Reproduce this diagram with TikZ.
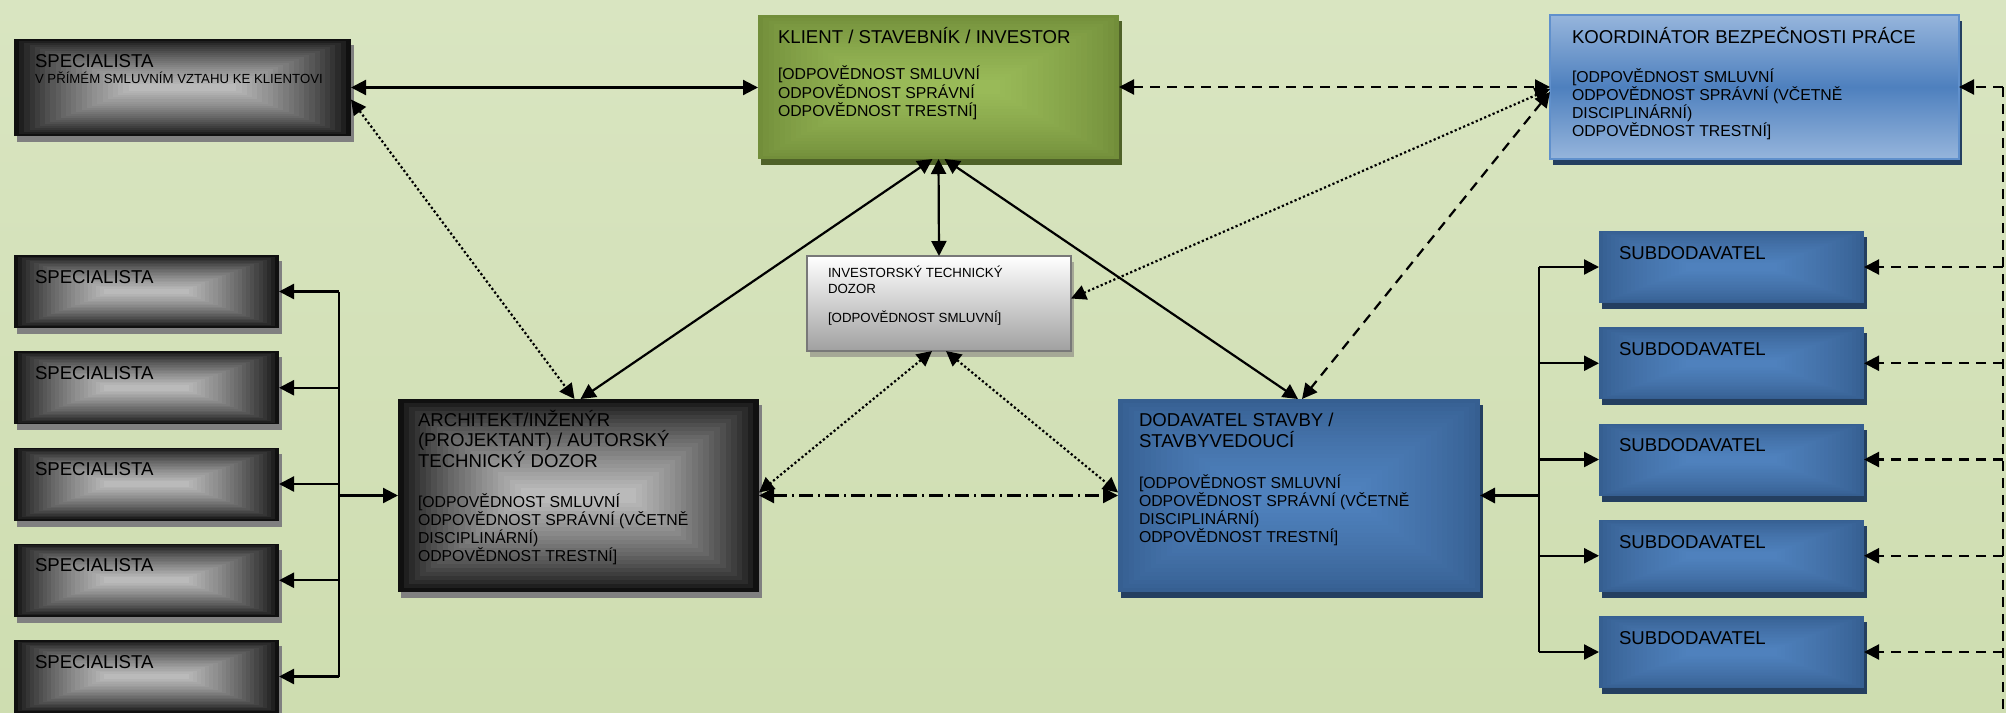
\documentclass[tikz,border=0pt]{standalone}
\usepackage{fontspec}
\setmainfont{Liberation Sans}
\usetikzlibrary{arrows.meta,calc}

\definecolor{bgtop}{RGB}{217,229,193}
\definecolor{bgbot}{RGB}{206,221,176}
\definecolor{gOut}{RGB}{16,16,16}
\definecolor{gIn}{RGB}{186,186,186}
\definecolor{gShd}{RGB}{128,128,128}
\definecolor{kOut}{RGB}{114,142,58}
\definecolor{kIn}{RGB}{153,186,88}
\definecolor{kShd}{RGB}{79,98,40}
\definecolor{bOut}{RGB}{54,95,145}
\definecolor{bIn}{RGB}{79,129,189}
\definecolor{bShd}{RGB}{36,63,96}
\definecolor{koTop}{RGB}{150,181,220}
\definecolor{koMid}{RGB}{78,128,190}
\definecolor{koBorder}{RGB}{96,144,204}
\definecolor{iBot}{RGB}{160,160,160}
\definecolor{iBorder}{RGB}{120,120,120}
\definecolor{iShd}{RGB}{165,168,150}

\newcommand\rectgrad[4]{%
  \coordinate (pa) at (path picture bounding box.south west);
  \coordinate (pb) at (path picture bounding box.north east);
  \foreach \k in {0,...,22}{
    \pgfmathsetmacro\fx{#3*\k/22}
    \pgfmathsetmacro\fy{#4*\k/22}
    \pgfmathtruncatemacro\pc{100*(\k/22)^0.75}
    \coordinate (qa) at ($(pa)!\fx!(pb)$);
    \coordinate (qb) at ($(pa)!\fy!(pb)$);
    \coordinate (qc) at ($(pb)!\fx!(pa)$);
    \coordinate (qd) at ($(pb)!\fy!(pa)$);
    \fill[#2!\pc!#1] (qa |- qb) rectangle (qc |- qd);
  }}

\newcommand\ttlf[1][10.25pt]{\fontsize{9.3pt}{#1}\selectfont}
\newcommand\bodyf[1][9.05pt]{\fontsize{7.9pt}{#1}\selectfont}
\newcommand\tbox[1]{\parbox[t]{220pt}{\raggedright\lineskiplimit=-30pt #1}}

\tikzset{
  nbox/.style={rectangle, inner sep=0pt, outer sep=0pt, anchor=north west},
  shd/.style={preaction={fill=#1, transform canvas={shift={(1.3pt,-3pt)}}}},
  graybox/.style={shd=gShd, fill=gOut, path picture={\rectgrad{gOut}{gIn}{0.34}{0.46}}},
  greenbox/.style={shd=kShd, fill=kOut, path picture={\rectgrad{kOut}{kIn}{0.33}{0.45}}},
  bluebox/.style={shd=bShd, fill=bOut, path picture={\rectgrad{bOut}{bIn}{0.33}{0.45}}},
  koordbox/.style={shd=bShd, top color=koTop, bottom color=koTop, middle color=koMid, draw=koBorder, line width=1pt},
  investbox/.style={shd=iShd, top color=white, bottom color=iBot, draw=iBorder, line width=1pt},
  txt/.style={anchor=base west, inner sep=0pt, outer sep=0pt, text=black},
  >={Triangle[length=7.5pt,width=7.5pt]},
  solidc/.style={line width=1.1pt},
  busc/.style={line width=1.15pt},
  dashedc/.style={line width=1.1pt, dash pattern=on 5pt off 3.5pt},
  dottedc/.style={line width=1.1pt, dash pattern=on 1.1pt off 1.2pt},
  dashdotc/.style={line width=1.1pt, dash pattern=on 7pt off 2.5pt on 1pt off 2.5pt},
}

\begin{document}
\begin{tikzpicture}[x=0.5pt,y=-0.5pt]
\useasboundingbox (0,0) rectangle (2006,712);
\shade[top color=bgtop, bottom color=bgbot] (0,0) rectangle (2006,712);

% boxes
\node[nbox, graybox, minimum width=168.5pt, minimum height=48.5pt] (s0) at (14,39) {};
\node[nbox, greenbox, minimum width=180.5pt, minimum height=72pt] (klient) at (758,15) {};
\node[nbox, koordbox, minimum width=204.5pt, minimum height=72pt] (koord) at (1550,15) {};
\node[nbox, investbox, minimum width=132pt, minimum height=47.5pt] (invest) at (807,256) {};
\node[nbox, graybox, minimum width=180.5pt, minimum height=96.5pt] (arch) at (398,399) {};
\node[nbox, bluebox, minimum width=181pt, minimum height=96.5pt] (dod) at (1118,399) {};
\foreach \i/\y in {0/231,1/327.25,2/423.5,3/519.75,4/616}{
  \node[nbox, bluebox, minimum width=132.5pt, minimum height=36pt] (sub\i) at (1599,\y) {};
  \node[txt] (subt\i) at ([shift={(20,28.3)}]sub\i.north west) {\ttlf SUBDODAVATEL};
}
\foreach \i/\y in {0/255,1/351.25,2/447.5,3/543.75,4/640}{
  \node[nbox, graybox, minimum width=132.5pt, minimum height=36.5pt] (sp\i) at (14,\y) {};
  \node[txt] (spt\i) at ([shift={(21,28)}]sp\i.north west) {\ttlf SPECIALISTA};
}

% texts
\node[txt] (s0t) at ([shift={(21,28)}]s0.north west)
  {\tbox{\ttlf SPECIALISTA\\ \fontsize{6.6pt}{8pt}\selectfont V PŘÍMÉM SMLUVNÍM VZTAHU KE KLIENTOVI}};
\node[txt] (klientt) at ([shift={(20,28.3)}]klient.north west)
  {\tbox{\ttlf KLIENT / STAVEBNÍK / INVESTOR\\[9.2pt]
   \bodyf[9.15pt] [ODPOVĚDNOST SMLUVNÍ\\ ODPOVĚDNOST SPRÁVNÍ\\ ODPOVĚDNOST TRESTNÍ]}};
\node[txt] (koordt) at ([shift={(22,28.3)}]koord.north west)
  {\tbox{\ttlf KOORDINÁTOR BEZPEČNOSTI PRÁCE\\[10.4pt]
   \bodyf[9.1pt] [ODPOVĚDNOST SMLUVNÍ\\ ODPOVĚDNOST SPRÁVNÍ (VČETNĚ\\ DISCIPLINÁRNÍ)\\ ODPOVĚDNOST TRESTNÍ]}};
\node[txt] (investt) at ([shift={(21,21.7)}]invest.north west)
  {\tbox{\fontsize{6.64pt}{7.8pt}\selectfont INVESTORSKÝ TECHNICKÝ\\ DOZOR\\[7pt] [ODPOVĚDNOST SMLUVNÍ]}};
\node[txt] (archt) at ([shift={(20,27)}]arch.north west)
  {\tbox{\ttlf[10.25pt] ARCHITEKT/INŽENÝR\\ (PROJEKTANT) / AUTORSKÝ\\ TECHNICKÝ DOZOR\\[11pt]
   \bodyf[9pt] [ODPOVĚDNOST SMLUVNÍ\\ ODPOVĚDNOST SPRÁVNÍ (VČETNĚ\\ DISCIPLINÁRNÍ)\\ ODPOVĚDNOST TRESTNÍ]}};
\node[txt] (dodt) at ([shift={(21,27.7)}]dod.north west)
  {\tbox{\ttlf[10.3pt] DODAVATEL STAVBY /\\ STAVBYVEDOUCÍ\\[11.7pt]
   \bodyf[9pt] [ODPOVĚDNOST SMLUVNÍ\\ ODPOVĚDNOST SPRÁVNÍ (VČETNĚ\\ DISCIPLINÁRNÍ)\\ ODPOVĚDNOST TRESTNÍ]}};

% helper coordinates
\coordinate (lbx) at (339,0);
\coordinate (rbx) at (1539,0);
\coordinate (rdx) at (2003,0);
\coordinate (rdbot) at (2003,712);

% main connectors
\draw[solidc,<->] (s0.east) -- (s0.east -| klient.west);
\draw[dottedc,<->] ([yshift=-6pt]s0.east) -- ([xshift=-2pt]arch.north);
\draw[solidc,<->] ([xshift=-3pt]klient.south) -- ([xshift=1pt]arch.north);
\draw[solidc,<->] (klient.south) -- (invest.north);
\draw[solidc,<->] ([xshift=3pt]klient.south) -- ([xshift=-0.5pt]dod.north);
\draw[dashedc,<->] (klient.east) -- (koord.west);
\draw[dashedc,<->] ([yshift=-2.5pt]koord.west) -- ([xshift=1.5pt]dod.north);
\draw[dottedc,<->] ([yshift=-1pt]koord.west) -- ([yshift=2.5pt]invest.east);
\draw[dottedc,<->] ([xshift=-3.5pt]invest.south) -- ([yshift=1.5pt]arch.east);
\draw[dottedc,<->] ([xshift=3.5pt]invest.south) -- ([yshift=1.5pt]dod.west);
\draw[dashdotc,<->] (arch.east) -- (dod.west);

% left bus
\draw[busc] (sp0.east -| lbx) -- (sp4.east -| lbx);
\foreach \i in {0,...,4}{\draw[busc,->] (sp\i.east -| lbx) -- (sp\i.east);}
\draw[busc,->] (arch.west -| lbx) -- (arch.west);

% right bus
\draw[busc] (sub0.west -| rbx) -- (sub4.west -| rbx);
\foreach \i in {0,...,4}{\draw[busc,->] (sub\i.west -| rbx) -- (sub\i.west);}
\draw[line width=1.6pt,->] (dod.east -| rbx) -- (dod.east);

% right dashed
\draw[dashedc] (koord.east -| rdx) -- (rdbot);
\draw[dashedc,->] (koord.east -| rdx) -- (koord.east);
\foreach \i in {0,...,4}{\draw[dashedc,->] (sub\i.east -| rdx) -- (sub\i.east);}
\end{tikzpicture}
\end{document}
